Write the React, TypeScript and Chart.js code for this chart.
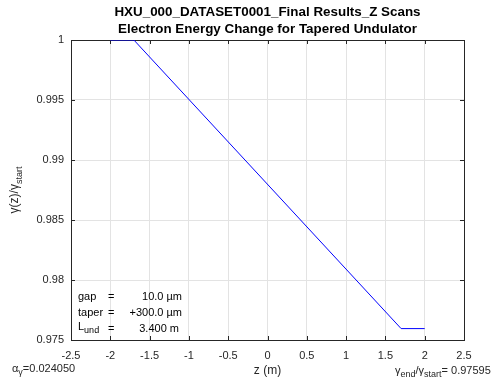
import React, { useEffect, useRef } from "react";
import { Chart, registerables } from "chart.js";

Chart.register(...registerables);

const zValues = [-2, -1.7, 1.7, 2];
const gammaRatio = [1, 1, 0.97595, 0.97595];
const titleLines = ["HXU_000_DATASET0001_Final Results_Z Scans", "Electron Energy Change for Tapered Undulator"];
const boxLabels = ["gap", "taper", "L"];
const boxValues = ["10.0 µm", "+300.0 µm", "3.400 m"];
const alphaGamma = "0.024050";
const endRatio = "0.97595";

const FONT = "'Liberation Sans', Arial, Helvetica, sans-serif";
const TXT = "#262626";

type Seg = { t: string; sub?: boolean };

function drawSegs(ctx: CanvasRenderingContext2D, segs: Seg[], x: number, y: number, size: number, subSize: number) {
  let cx = x;
  for (const s of segs) {
    ctx.font = `${s.sub ? subSize : size}px ${FONT}`;
    ctx.fillText(s.t, cx, s.sub ? y + size * 0.35 : y);
    cx += ctx.measureText(s.t).width;
  }
  return cx;
}
function segsWidth(ctx: CanvasRenderingContext2D, segs: Seg[], size: number, subSize: number) {
  let w = 0;
  for (const s of segs) {
    ctx.font = `${s.sub ? subSize : size}px ${FONT}`;
    w += ctx.measureText(s.t).width;
  }
  return w;
}

const decorPlugin = {
  id: "decor",
  beforeDatasetsDraw(chart: any) {
    const { ctx, chartArea: a, scales } = chart;
    ctx.save();
    ctx.strokeStyle = TXT;
    ctx.lineWidth = 1;
    ctx.strokeRect(Math.round(a.left) + 0.5, Math.round(a.top) + 0.5, Math.round(a.right - a.left), Math.round(a.bottom - a.top));
    const tl = 4;
    ctx.beginPath();
    for (const t of scales.x.ticks) {
      const px = Math.round(scales.x.getPixelForValue(t.value)) + 0.5;
      ctx.moveTo(px, a.bottom); ctx.lineTo(px, a.bottom - tl);
      ctx.moveTo(px, a.top); ctx.lineTo(px, a.top + tl);
    }
    for (const t of scales.y.ticks) {
      const py = Math.round(scales.y.getPixelForValue(t.value)) + 0.5;
      ctx.moveTo(a.left, py); ctx.lineTo(a.left + tl, py);
      ctx.moveTo(a.right, py); ctx.lineTo(a.right - tl, py);
    }
    ctx.stroke();
    ctx.restore();
  },
  afterDraw(chart: any) {
    const { ctx, chartArea: a } = chart;
    ctx.save();
    ctx.fillStyle = "#000";
    ctx.textBaseline = "middle";
    ctx.textAlign = "center";
    ctx.font = `bold 13.4px ${FONT}`;
    const cx = (a.left + a.right) / 2;
    ctx.fillText(titleLines[0], cx, 12);
    ctx.fillText(titleLines[1], cx, 29);

    ctx.fillStyle = TXT;
    ctx.font = `12px ${FONT}`;
    ctx.fillText("z (m)", cx, 371);

    ctx.textAlign = "left";
    const ySegs: Seg[] = [{ t: "γ(z)/γ" }, { t: "start", sub: true }];
    ctx.save();
    ctx.translate(17, (a.top + a.bottom) / 2);
    ctx.rotate(-Math.PI / 2);
    const yw = segsWidth(ctx, ySegs, 12, 9);
    drawSegs(ctx, ySegs, -yw / 2, -2, 12, 9);
    ctx.restore();

    ctx.fillStyle = "#000";
    const rows = [297, 313, 329];
    for (let i = 0; i < 3; i++) {
      ctx.font = `11px ${FONT}`;
      if (i === 2) {
        drawSegs(ctx, [{ t: boxLabels[i] }, { t: "und", sub: true }], 78, rows[i] - 2, 11, 9);
      } else {
        ctx.fillText(boxLabels[i], 78, rows[i]);
      }
      ctx.font = `11px ${FONT}`;
      ctx.fillText("=", 108, rows[i]);
      ctx.textAlign = "right";
      ctx.fillText(boxValues[i], i === 2 ? 179 : 182, rows[i]);
      ctx.textAlign = "left";
    }

    ctx.fillStyle = TXT;
    drawSegs(ctx, [{ t: "α" }, { t: "γ", sub: true }, { t: "=" + alphaGamma }], 12, 369, 11, 9);
    drawSegs(ctx, [{ t: "γ" }, { t: "end", sub: true }, { t: "/γ" }, { t: "start", sub: true }, { t: "= " + endRatio }], 395, 371, 11, 9);
    ctx.restore();
  },
};

function fmt(v: number) {
  return String(Number(v.toFixed(4)));
}

export default function App() {
  const ref = useRef<HTMLCanvasElement | null>(null);
  useEffect(() => {
    if (!ref.current) return;
    const chart = new Chart(ref.current, {
      type: "line",
      data: {
        datasets: [
          {
            data: zValues.map((z, i) => ({ x: z, y: gammaRatio[i] })),
            borderColor: "#0000ff",
            borderWidth: 1,
            pointRadius: 0,
            fill: false,
            tension: 0,
          },
        ],
      },
      options: {
        animation: false,
        responsive: true,
        maintainAspectRatio: false,
        devicePixelRatio: 1,
        layout: { padding: { left: 0, top: 40, right: 37, bottom: 0 } },
        plugins: { legend: { display: false }, title: { display: false }, tooltip: { enabled: false } },
        scales: {
          x: {
            type: "linear",
            min: -2.5,
            max: 2.5,
            ticks: { stepSize: 0.5, color: TXT, font: { family: FONT, size: 11 }, padding: 9, maxRotation: 0, callback: (v: any) => fmt(Number(v)) },
            grid: { color: "#e3e3e3", drawTicks: false },
            border: { color: TXT },
            afterFit: (s: any) => { s.height = 41; },
          },
          y: {
            type: "linear",
            min: 0.975,
            max: 1,
            ticks: { stepSize: 0.005, color: TXT, font: { family: FONT, size: 11 }, padding: 7, callback: (v: any) => fmt(Number(v)) },
            grid: { color: "#e3e3e3", drawTicks: false },
            border: { color: TXT },
            afterFit: (s: any) => { s.width = 71; },
          },
        },
      },
      plugins: [decorPlugin],
    } as any);
    return () => chart.destroy();
  }, []);
  return (
    <div style={{ position: "absolute", left: 0, top: 0, width: 501, height: 381, background: "#fff" }}>
      <canvas ref={ref} />
    </div>
  );
}
